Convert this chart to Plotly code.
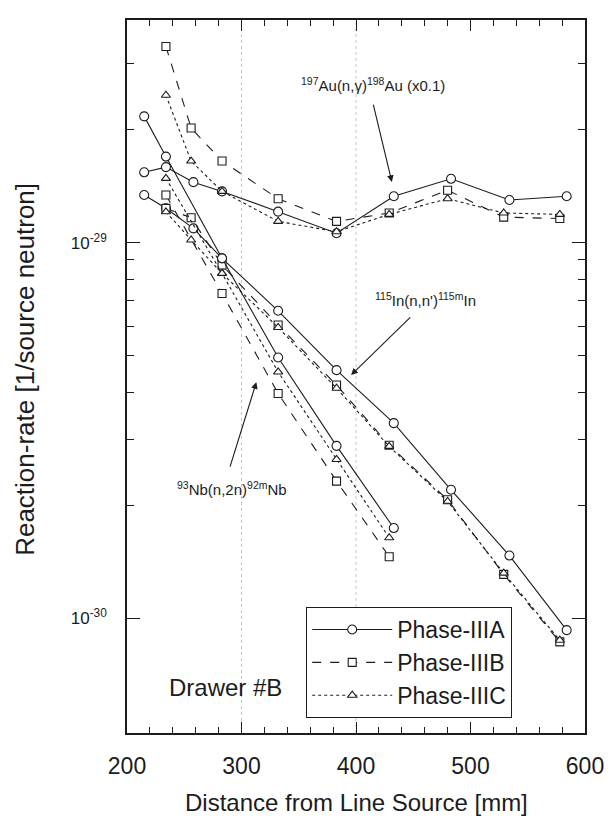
import plotly.graph_objects as go

# Detector positions [mm]
x_a = [215, 234, 258, 283, 332, 383, 433, 483, 534, 584]
x_bc = [234, 256, 283, 332, 383, 429, 480, 529, 578]
x_nb_a = [215, 234, 283, 332, 383, 433]
x_nb_bc = [234, 283, 332, 383, 429]

# 197Au(n,g)198Au reaction rates (already multiplied by 0.1)
au_a = [1.54e-29, 1.59e-29, 1.45e-29, 1.37e-29, 1.21e-29, 1.06e-29, 1.33e-29, 1.48e-29, 1.30e-29, 1.33e-29]
au_b = [3.33e-29, 2.02e-29, 1.65e-29, 1.31e-29, 1.14e-29, 1.20e-29, 1.38e-29, 1.17e-29, 1.16e-29]
au_c = [2.47e-29, 1.65e-29, 1.37e-29, 1.14e-29, 1.07e-29, 1.19e-29, 1.31e-29, 1.20e-29, 1.19e-29]

# 115In(n,n')115mIn reaction rates
in_a = [1.34e-29, 1.235e-29, 1.092e-29, 9.09e-30, 6.59e-30, 4.58e-30, 3.31e-30, 2.20e-30, 1.47e-30, 9.31e-31]
in_b = [1.235e-29, 1.166e-29, 8.72e-30, 6.04e-30, 4.18e-30, 2.89e-30, 2.07e-30, 1.31e-30, 8.66e-31]
in_c = [1.209e-29, 1.017e-29, 8.29e-30, 5.95e-30, 4.10e-30, 2.87e-30, 2.05e-30, 1.32e-30, 8.75e-31]

# 93Nb(n,2n)92mNb reaction rates
nb_a = [2.17e-29, 1.696e-29, 9.09e-30, 4.95e-30, 2.88e-30, 1.74e-30]
nb_b = [1.34e-29, 7.33e-30, 3.97e-30, 2.32e-30, 1.46e-30]
nb_c = [1.484e-29, 8.29e-30, 4.53e-30, 2.65e-30, 1.64e-30]

phase_names = ["Phase-IIIA", "Phase-IIIB", "Phase-IIIC"]
y_tick_vals = [1e-30, 1e-29]
y_tick_text = ["10<sup>-30</sup>", "10<sup>-29</sup>"]
y_minor_vals = [m * 1e-30 for m in range(2, 10)] + [2e-29, 3e-29]
x_tick_vals = [200, 300, 400, 500, 600]

INK = "#1c1c1c"
FONT = "Liberation Sans, Arial, sans-serif"

styles = {
    "Phase-IIIA": dict(dash="solid", symbol="circle", size=9),
    "Phase-IIIB": dict(dash="dash", symbol="square", size=8),
    "Phase-IIIC": dict(dash="dot", symbol="triangle-up", size=8),
}

series = [
    (x_a, au_a, "Phase-IIIA", True), (x_bc, au_b, "Phase-IIIB", True), (x_bc, au_c, "Phase-IIIC", True),
    (x_a, in_a, "Phase-IIIA", False), (x_bc, in_b, "Phase-IIIB", False), (x_bc, in_c, "Phase-IIIC", False),
    (x_nb_a, nb_a, "Phase-IIIA", False), (x_nb_bc, nb_b, "Phase-IIIB", False), (x_nb_bc, nb_c, "Phase-IIIC", False),
]

fig = go.Figure()
for xs, ys, name, show in series:
    st = styles[name]
    fig.add_trace(go.Scatter(
        x=xs, y=ys, mode="lines+markers", name=name, legendgroup=name, showlegend=show,
        line=dict(color=INK, width=1.1, dash=st["dash"]),
        marker=dict(symbol=st["symbol"], size=st["size"], color="white",
                    line=dict(color=INK, width=1.1)),
    ))

# light dotted guide lines
for gx in [300, 400]:
    fig.add_shape(type="line", xref="x", yref="paper", x0=gx, x1=gx, y0=0, y1=1,
                  line=dict(color="#c4c4c4", width=1, dash="dot"), layer="below")

ann_font = dict(family=FONT, size=15, color=INK)
annotations = [
    dict(x=414.8, y=-28.58, xref="x", yref="y", text="<sup>197</sup>Au(n,γ)<sup>198</sup>Au (x0.1)",
         showarrow=False, font=ann_font),
    dict(x=431.3, y=-28.838, ax=414.8, ay=-28.628, xref="x", yref="y", axref="x", ayref="y",
         text="", showarrow=True, arrowhead=2, arrowsize=1.2, arrowwidth=1.1, arrowcolor=INK),
    dict(x=460.9, y=-29.152, xref="x", yref="y", text="<sup>115</sup>In(n,n')<sup>115m</sup>In",
         showarrow=False, font=ann_font),
    dict(x=395.7, y=-29.352, ax=448.7, ay=-29.195, xref="x", yref="y", axref="x", ayref="y",
         text="", showarrow=True, arrowhead=2, arrowsize=1.2, arrowwidth=1.1, arrowcolor=INK),
    dict(x=291.3, y=-29.653, xref="x", yref="y", text="<sup>93</sup>Nb(n,2n)<sup>92m</sup>Nb",
         showarrow=False, font=ann_font),
    dict(x=313.0, y=-29.371, ax=289.6, ay=-29.600, xref="x", yref="y", axref="x", ayref="y",
         text="", showarrow=True, arrowhead=2, arrowsize=1.2, arrowwidth=1.1, arrowcolor=INK),
    dict(x=235.0, y=-30.183, xref="x", yref="y", xanchor="left", text="Drawer #B",
         showarrow=False, font=dict(family=FONT, size=24, color=INK)),
    dict(x=0.502, y=-0.098, xref="paper", yref="paper", text="Distance from Line Source [mm]",
         showarrow=False, font=dict(family=FONT, size=24, color=INK), yanchor="middle"),
    dict(x=-0.2217, y=0.51, xref="paper", yref="paper", text="Reaction-rate [1/source neutron]",
         textangle=-90, showarrow=False, font=dict(family=FONT, size=26, color=INK),
         xanchor="center", yanchor="middle"),
]

fig.update_layout(
    width=616, height=817,
    margin=dict(l=127, r=29, t=20, b=84),
    paper_bgcolor="white", plot_bgcolor="white",
    font=dict(family=FONT, color=INK),
    annotations=annotations,
    showlegend=True,
    legend=dict(x=0.3913, y=0.1767, xanchor="left", yanchor="top",
                bordercolor=INK, borderwidth=1, bgcolor="white",
                font=dict(family=FONT, size=23, color=INK),
                itemwidth=80, tracegroupgap=0),
)

fig.update_xaxes(
    range=[200, 600], tickvals=x_tick_vals, ticks="inside", ticklen=11, tickwidth=1.2,
    tickcolor=INK, showline=True, linecolor=INK, linewidth=1.5, mirror="ticks",
    showgrid=False, zeroline=False, tickfont=dict(family=FONT, size=23, color=INK),
    ticklabelstandoff=12,
    minor=dict(ticks="inside", ticklen=6, dtick=20, tick0=200, tickcolor=INK, tickwidth=1.1, showgrid=False),
)
fig.update_yaxes(
    type="log", range=[-30.305, -28.407], tickvals=y_tick_vals, ticktext=y_tick_text,
    ticks="inside", ticklen=13, tickwidth=1.2, tickcolor=INK,
    showline=True, linecolor=INK, linewidth=1.5, mirror="ticks",
    showgrid=False, zeroline=False, tickfont=dict(family=FONT, size=17, color=INK),
    ticklabelstandoff=15,
    minor=dict(ticks="inside", ticklen=7, tickvals=y_minor_vals, tickcolor=INK, tickwidth=1.1, showgrid=False),
)

fig.write_html("out.html")
